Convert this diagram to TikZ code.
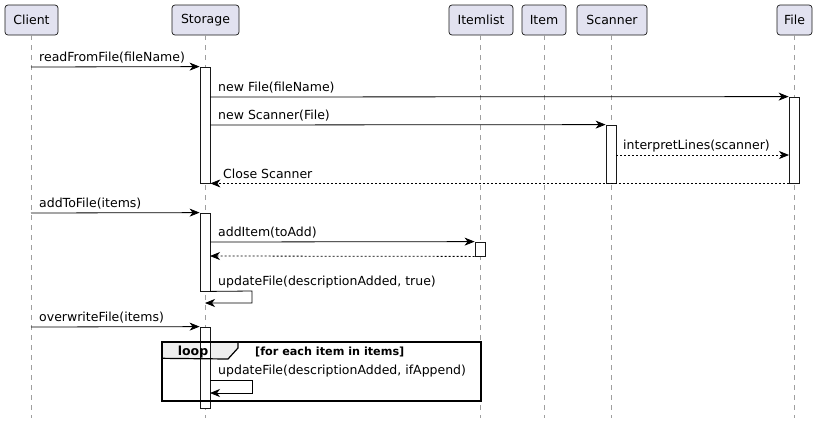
\documentclass[tikz,border=0pt]{standalone}
\usepackage{fontspec}
\setmainfont{DejaVu Sans}
\usetikzlibrary{arrows.meta}
\definecolor{partfill}{HTML}{E2E2F0}
\definecolor{partdraw}{HTML}{181818}
\definecolor{tabfill}{HTML}{EEEEEE}
\tikzset{
  part/.style={draw=partdraw, fill=partfill, rounded corners=3pt, line width=0.7pt, minimum height=30pt, inner sep=0pt, font=\fontsize{12.5}{15}\selectfont},
  lifeline/.style={draw=gray!75, line width=0.7pt, dash pattern=on 5pt off 5pt},
  act/.style={draw=partdraw, fill=white, line width=0.8pt, minimum width=10pt, inner sep=0pt},
  msg/.style={draw=black, line width=0.8pt, -{Stealth[length=10pt,width=8pt,inset=3pt]}},
  ret/.style={msg, dash pattern=on 2pt off 2pt},
  lbl/.style={anchor=base west, inner sep=0pt, font=\fontsize{12.5}{15}\selectfont},
}
\begin{document}
\begin{tikzpicture}[x=1pt,y=-1pt]
\useasboundingbox (0,0) rectangle (818,424);
% participants
\node[part, minimum width=53pt] (client) at (31.5,20) {Client};
\node[part, minimum width=67pt] (storage) at (205.5,20) {Storage};
\node[part, minimum width=64pt] (itemlist) at (481,20) {Itemlist};
\node[part, minimum width=44pt] (item) at (544,20) {Item};
\node[part, minimum width=70pt] (scanner) at (612,20) {Scanner};
\node[part, minimum width=35pt] (file) at (794.5,20) {File};
% lifeline ends
\coordinate (clientE) at (31,418);
\coordinate (storageE) at (205,418);
\coordinate (itemlistE) at (480,418);
\coordinate (itemE) at (544,418);
\coordinate (scannerE) at (611,418);
\coordinate (fileE) at (794,418);
\draw[lifeline] (31,35) -- (clientE);
\draw[lifeline] (205,35) -- (storageE);
\draw[lifeline] (480,35) -- (itemlistE);
\draw[lifeline] (544,35) -- (itemE);
\draw[lifeline] (611,35) -- (scannerE);
\draw[lifeline] (794,35) -- (fileE);
% loop tab fill
\fill[tabfill] (162,342) -- (238,342) -- (238,348) -- (228,359) -- (162,359) -- cycle;
% activations
\node[act, minimum height=116pt] (s1) at (205,125) {};
\node[act, minimum height=86pt] (f1) at (794,140) {};
\node[act, minimum height=58pt] (sc1) at (611,154) {};
\node[act, minimum height=78pt] (s2) at (205,252) {};
\node[act, minimum height=14pt] (il1) at (480,249) {};
\node[act, minimum height=81pt] (s3) at (205,367.5) {};
% loop frame
\node[draw=black, line width=1.4pt, minimum width=319pt, minimum height=59pt, inner sep=0pt] (loop) at (321.5,371.5) {};
\draw[black, line width=1.2pt] (loop.north west) ++(0,17) -- (228,359) -- (238,348) -- (238,342);
\node[anchor=base, inner sep=0pt, font=\bfseries\fontsize{12.5}{15}\selectfont] (looplbl) at (193,355) {loop};
\node[anchor=base west, inner sep=0pt, font=\bfseries\fontsize{11.2}{13}\selectfont] (loopcond) at (255,355) {[for each item in items]};
% messages
\coordinate (m1s) at (31,67);
\draw[msg] (m1s) -- (s1.north west);
\node[lbl] (l1) at (39,61) {readFromFile(fileName)};
\coordinate (m2s) at (210,97);
\draw[msg] (m2s) -- (f1.north west);
\node[lbl] (l2) at (218,91) {new File(fileName)};
\coordinate (m3s) at (210,125);
\draw[msg] (m3s) -- (sc1.north west);
\node[lbl] (l3) at (218,119) {new Scanner(File)};
\coordinate (m4s) at (616,155);
\coordinate (m4e) at (789,155);
\draw[ret] (m4s) -- (m4e);
\node[lbl] (l4) at (623,149) {interpretLines(scanner)};
\draw[ret] (f1.south west) -- (s1.south east);
\node[lbl] (l5) at (223,178) {Close Scanner};
\coordinate (m6s) at (31,213);
\draw[msg] (m6s) -- (s2.north west);
\node[lbl] (l6) at (39,207) {addToFile(items)};
\coordinate (m7s) at (210,242);
\draw[msg] (m7s) -- (il1.north west);
\node[lbl] (l7) at (218,236) {addItem(toAdd)};
\coordinate (m8e) at (210,256);
\draw[ret] (il1.south west) -- (m8e);
\coordinate (m9e) at (205,303);
\draw[msg] (s2.south east) -- (252,291) -- (252,303) -- (m9e);
\node[lbl] (l9) at (218,285) {updateFile(descriptionAdded, true)};
\coordinate (m10s) at (31,327);
\draw[msg] (m10s) -- (s3.north west);
\node[lbl] (l10) at (39,321) {overwriteFile(items)};
\coordinate (m11s) at (210,380);
\coordinate (m11e) at (210,393);
\draw[msg] (m11s) -- (252,380) -- (252,393) -- (m11e);
\node[lbl] (l11) at (218,374) {updateFile(descriptionAdded, ifAppend)};
\end{tikzpicture}
\end{document}
